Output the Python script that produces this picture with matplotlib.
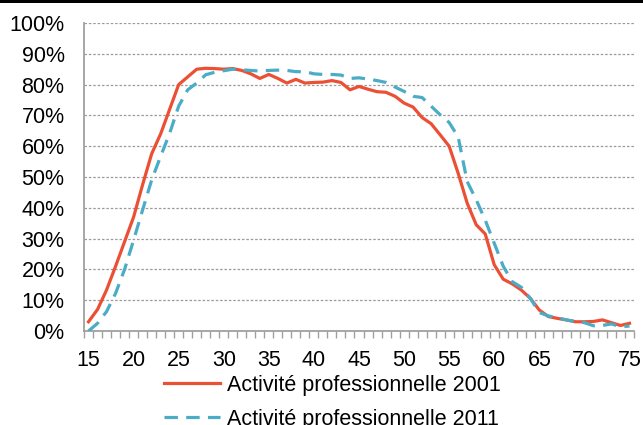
import matplotlib
matplotlib.use("Agg")
import matplotlib.pyplot as plt
from matplotlib.patches import Rectangle
import numpy as np

ages = list(range(15, 76))
act_2001 = [3.0, 7.0, 13.3, 21.0, 29.0, 37.0, 47.5, 57.5, 64.0, 72.0,
            80.0, 82.5, 85.0, 85.3, 85.2, 85.0, 85.2, 84.6, 83.5, 82.0,
            83.3, 82.0, 80.5, 81.7, 80.5, 80.7, 80.8, 81.3, 80.7, 78.3,
            79.4, 78.5, 77.7, 77.5, 76.2, 74.0, 72.7, 69.3, 67.3, 63.7,
            60.0, 51.2, 41.5, 34.5, 31.5, 21.5, 16.8, 15.3, 13.3, 10.6,
            6.8, 4.7, 4.1, 3.6, 3.0, 3.0, 3.1, 3.6, 2.7, 1.8, 2.5]
act_2011 = [0.0, 2.5, 6.3, 12.2, 20.0, 29.5, 39.3, 49.0, 56.7, 64.2,
            73.0, 78.3, 80.5, 83.2, 84.0, 84.5, 85.0, 84.8, 84.6, 84.4,
            84.6, 84.7, 84.6, 84.2, 84.2, 83.5, 83.3, 83.3, 83.1, 82.0,
            82.2, 81.8, 81.3, 80.7, 79.2, 77.8, 76.2, 75.8, 73.0, 70.2,
            67.7, 63.0, 48.5, 42.6, 36.0, 28.5, 21.0, 16.0, 14.2, 10.6,
            6.0, 4.9, 4.3, 3.6, 3.1, 2.7, 1.7, 1.8, 2.3, 1.4, 1.6]
label_2001 = "Activité professionnelle 2001"
label_2011 = "Activité professionnelle 2011"
x_ticks = list(range(15, 76, 5))
y_ticks = list(range(0, 101, 10))

plt.rcParams['font.family'] = ['Liberation Sans', 'DejaVu Sans']

fig = plt.figure(figsize=(6.43, 4.25), dpi=100)
fig.patches.append(Rectangle((0, 1 - 3/425), 1, 3/425, transform=fig.transFigure,
                             facecolor='black', edgecolor='none'))
ax = fig.add_axes([84/643, 1 - 331/425, 550/643, 308/425])

red = '#EC5034'
blue = '#4BACC6'
ax.plot(ages, act_2001, color=red, lw=2.3, solid_joinstyle='round', label=label_2001, zorder=3)
ax.plot(ages, act_2011, color=blue, lw=2.3, ls=(0, (4.2, 2.6)), label=label_2011, zorder=3)

ax.set_xlim(14.5, 75.5)
ax.set_ylim(0, 100)
ax.set_yticks(y_ticks)
ax.set_yticklabels([f"{v}%" for v in y_ticks])
ax.set_xticks(x_ticks)
ax.set_xticks(np.arange(14.5, 76, 1), minor=True)
ax.tick_params(axis='x', which='major', length=0, pad=13.5, labelsize=15.5)
ax.tick_params(axis='x', which='minor', length=5, width=1, color='#A0A0A0', direction='out')
ax.tick_params(axis='y', length=0, pad=14, labelsize=15.5)

for v in y_ticks[1:]:
    ax.axhline(v, color='#9A9A9A', lw=0.9, ls=(0, (2, 1.5)), zorder=1)

for s in ['top', 'right']:
    ax.spines[s].set_visible(False)
for s in ['left', 'bottom']:
    ax.spines[s].set_color('#A0A0A0')
    ax.spines[s].set_linewidth(1.3)

leg = fig.legend(loc='upper left', bbox_to_anchor=(153/643, 1 - 364/425),
                 frameon=False, fontsize=15.5, handlelength=2.6,
                 handletextpad=0.35, labelspacing=0.6, borderpad=0)

fig.savefig("out.png", dpi=100)
